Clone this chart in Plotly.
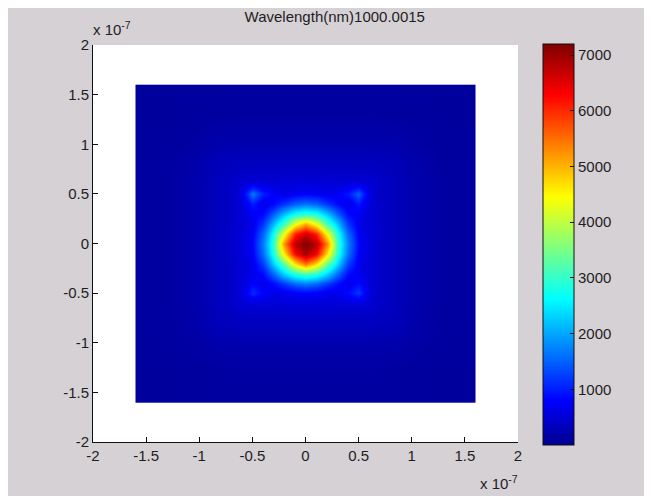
import plotly.graph_objects as go

# ---------------- data (axis units of 1e-7 m) ----------------
title_text = "Wavelength(nm)1000.0015"

# cell edges of the intensity grid (x and y identical)
grid_edges = [-1.6, -1.0, -0.7, -0.55, -0.45, -0.35, -0.25, -0.15, -0.05,
              0.05, 0.15, 0.25, 0.35, 0.45, 0.55, 0.7, 1.0, 1.6]

# intensity values, rows from bottom (y=-1.3) to top (y=1.3),
# columns from left (x=-1.3) to right (x=1.3)
intensity = [
    [100, 120, 130, 130, 130, 130, 130, 130, 130, 130, 130, 130, 130, 130, 130, 120, 100],
    [120, 300, 330, 330, 330, 330, 330, 330, 330, 330, 330, 330, 330, 330, 330, 300, 120],
    [130, 330, 480, 500, 500, 500, 510, 520, 520, 520, 510, 500, 500, 500, 480, 330, 130],
    [130, 330, 500, 1100, 800, 650, 660, 760, 810, 770, 670, 700, 850, 1200, 500, 330, 130],
    [130, 330, 500, 800, 630, 870, 1230, 1580, 1730, 1600, 1250, 880, 640, 850, 500, 330, 130],
    [130, 330, 500, 650, 860, 1550, 2300, 2900, 3150, 2950, 2350, 1570, 870, 700, 500, 330, 130],
    [130, 330, 500, 660, 1230, 2300, 3300, 4650, 5500, 4750, 3400, 2350, 1250, 670, 500, 330, 130],
    [130, 330, 510, 760, 1580, 2850, 4600, 6300, 6950, 6400, 4700, 2900, 1600, 770, 510, 330, 130],
    [130, 330, 520, 800, 1700, 3000, 5250, 6800, 7200, 6850, 5350, 3050, 1720, 810, 520, 330, 130],
    [130, 330, 510, 740, 1520, 2750, 4350, 6050, 6650, 6100, 4400, 2800, 1540, 750, 510, 330, 130],
    [130, 330, 500, 640, 1170, 2150, 3050, 4300, 5050, 4350, 3100, 2200, 1180, 650, 500, 330, 130],
    [130, 330, 500, 750, 830, 1450, 2150, 2700, 2900, 2750, 2180, 1470, 840, 720, 500, 330, 130],
    [130, 330, 500, 1000, 610, 830, 1150, 1480, 1620, 1500, 1160, 840, 610, 950, 500, 330, 130],
    [130, 330, 500, 1700, 1000, 750, 630, 720, 780, 730, 640, 720, 950, 1500, 500, 330, 130],
    [130, 330, 480, 500, 500, 500, 510, 520, 520, 520, 510, 500, 500, 500, 480, 330, 130],
    [120, 300, 330, 330, 330, 330, 330, 330, 330, 330, 330, 330, 330, 330, 330, 300, 120],
    [100, 120, 130, 130, 130, 130, 130, 130, 130, 130, 130, 130, 130, 130, 130, 120, 100],
]

axis_ticks = [-2, -1.5, -1, -0.5, 0, 0.5, 1, 1.5, 2]
axis_ticklabels = ["-2", "-1.5", "-1", "-0.5", "0", "0.5", "1", "1.5", "2"]
cbar_ticks = [1000, 2000, 3000, 4000, 5000, 6000, 7000]
cbar_range = [0, 7200]

# MATLAB jet colormap
jet = [
    [0.0, "rgb(0,0,143)"],
    [0.1111, "rgb(0,0,255)"],
    [0.3651, "rgb(0,255,255)"],
    [0.6190, "rgb(255,255,0)"],
    [0.8730, "rgb(255,0,0)"],
    [1.0, "rgb(128,0,0)"],
]

# ---------------- layout geometry ----------------
# The page body has an 8px default margin, so screen px = figure px + 8.
OFF = 8
W, H = 652, 496
L = 93 - OFF
T = 45 - OFF
R = W - (518 - OFF)
B = H - (442 - OFF)
pw, ph = W - L - R, H - T - B

def px_x(sx):
    return (sx - OFF - L) / pw

def px_y(sy):
    return (H - B - (sy - OFF)) / ph

font_family = "Liberation Sans, Arial, sans-serif"
txt_color = "#1e1e1e"
fs = 15

fig = go.Figure()
fig.add_trace(go.Heatmap(
    x=grid_edges, y=grid_edges, z=intensity,
    zmin=cbar_range[0], zmax=cbar_range[1],
    zsmooth="best",
    colorscale=jet,
    colorbar=dict(
        x=px_x(543), xanchor="left", xpad=0,
        y=px_y(244.5), yanchor="middle", ypad=0,
        thickness=31, thicknessmode="pixels",
        len=401, lenmode="pixels",
        outlinecolor="#111", outlinewidth=1,
        tickvals=cbar_ticks, ticktext=[str(v) for v in cbar_ticks],
        ticks="inside", ticklen=4, tickcolor="#111",
        tickfont=dict(family=font_family, size=fs, color=txt_color),
    ),
    hoverinfo="skip",
))

axis_common = dict(
    range=[-2, 2], tickmode="array", tickvals=axis_ticks, ticktext=axis_ticklabels,
    ticks="inside", ticklen=5, tickcolor="#111", tickwidth=1,
    showline=True, linecolor="#111", linewidth=1, mirror=False,
    showgrid=False, zeroline=False,
    tickfont=dict(family=font_family, size=fs, color=txt_color),
)

fig.update_layout(
    width=W, height=H,
    margin=dict(l=L, r=R, t=T, b=B, pad=0),
    paper_bgcolor="rgb(213,209,213)",
    plot_bgcolor="white",
    xaxis=axis_common,
    yaxis=axis_common,
    title=dict(text=title_text, x=px_x(306), xanchor="center",
               y=1 - (17 - OFF) / H, yanchor="middle",
               font=dict(family=font_family, size=fs, color=txt_color)),
    showlegend=False,
)

# exponent labels
fig.add_annotation(text="x 10<sup>-7</sup>", xref="paper", yref="paper",
                   x=px_x(91), y=px_y(40), xanchor="left", yanchor="bottom",
                   showarrow=False, font=dict(family=font_family, size=fs, color=txt_color))
fig.add_annotation(text="x 10<sup>-7</sup>", xref="paper", yref="paper",
                   x=px_x(520), y=px_y(494), xanchor="right", yanchor="bottom",
                   showarrow=False, font=dict(family=font_family, size=fs, color=txt_color))

fig.write_html("out.html")
